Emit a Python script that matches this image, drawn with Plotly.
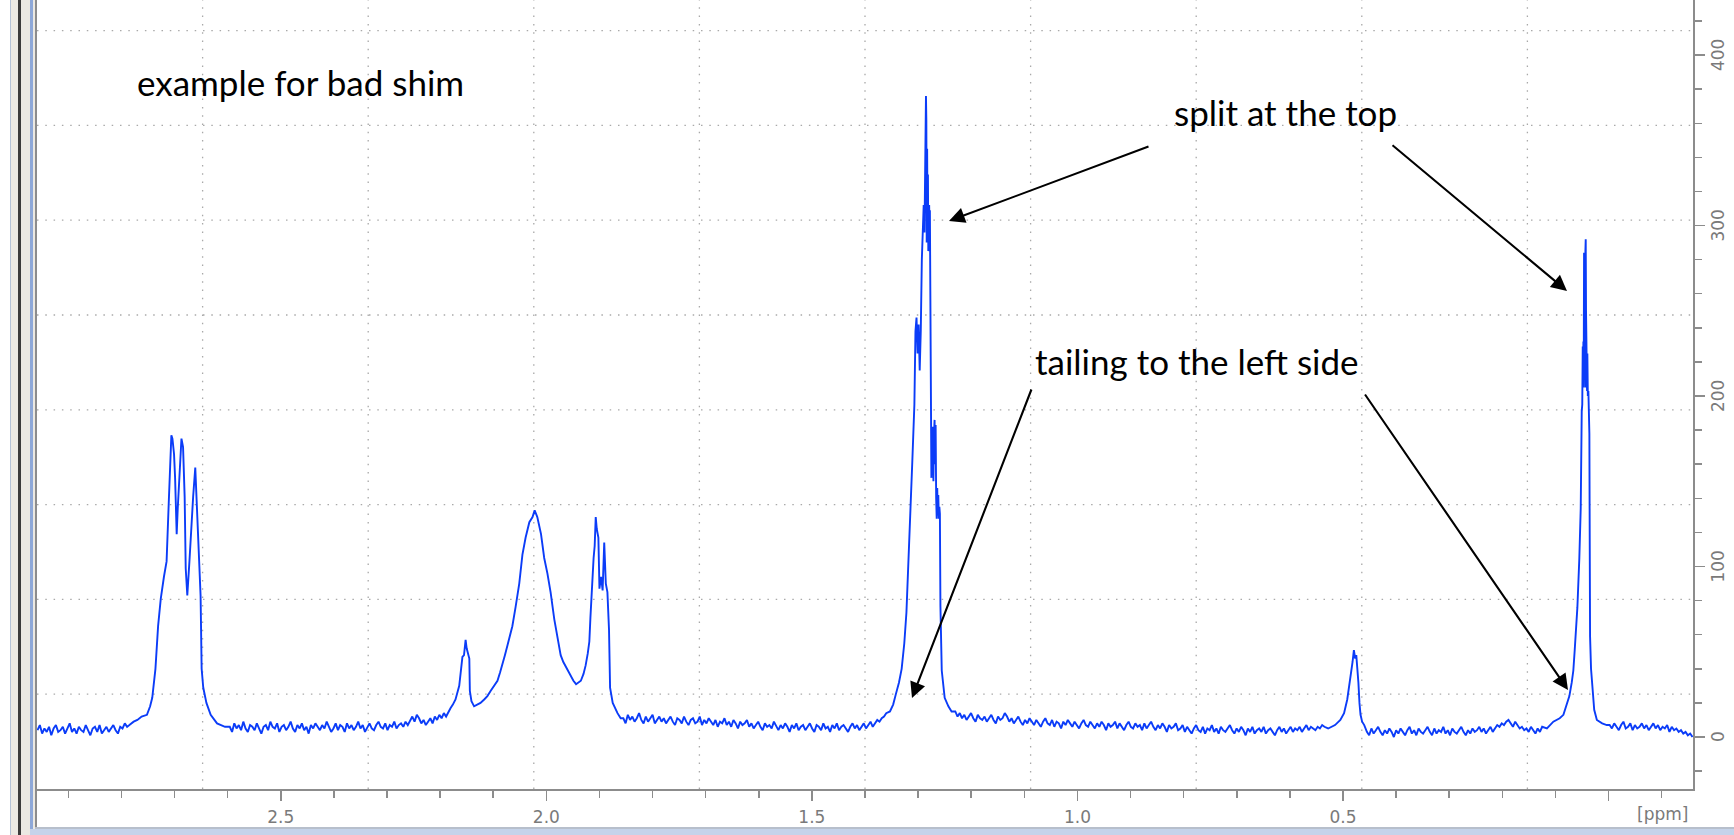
import numpy as np
import plotly.graph_objects as go

# ---------------- data ----------------
# baseline stretches: (start ppm, end ppm) and intensity values read along them
base_a_range = (2.958, 2.785)
base_a_vals = [4, 7, 2, 5, 3, 6, 1, 5, 7, 3, 4, 6, 2, 5, 8, 3, 5, 2, 6, 4,
               3, 7, 4, 1, 5, 6, 3, 7, 2, 4, 6, 3, 5, 7, 4, 2, 6, 5, 8, 6,
               7]

peak_27_ppm = [2.777, 2.770, 2.762, 2.752, 2.746, 2.742, 2.736, 2.731, 2.726, 2.720,
               2.715, 2.711, 2.709, 2.706, 2.704, 2.701, 2.699, 2.696, 2.694, 2.691,
               2.687, 2.684, 2.681, 2.679, 2.676, 2.672, 2.669, 2.665, 2.661, 2.659,
               2.656, 2.654, 2.651, 2.649, 2.646, 2.640, 2.632, 2.620, 2.605]
peak_27_val = [9, 10, 12, 13, 18, 23, 40, 65, 81, 94,
               103, 137, 152, 177, 175, 166, 152, 119, 134, 155,
               175, 170, 141, 99, 83, 103, 123, 141, 158, 141,
               117, 110, 83, 40, 29, 20, 13, 8, 6]

base_b_range = (2.596, 2.176)
base_b_vals = [6, 3, 8, 5, 7, 4, 9, 5, 3, 7, 6, 4, 8, 5, 2, 6, 7, 4, 9, 6,
               5, 8, 3, 6, 7, 4, 6, 9, 5, 3, 7, 5, 8, 4, 6, 2, 7, 5, 8, 6,
               4, 7, 5, 9, 6, 3, 5, 8, 4, 7, 6, 3, 8, 5, 7, 4, 6, 9, 5, 7,
               3, 6, 8, 5, 4, 7, 9, 6, 5, 8, 4, 7, 6, 9, 5, 7, 8, 6, 9, 7,
               10, 12, 9, 13, 11, 8, 10, 7, 9, 11, 8, 12, 10, 13, 11, 14, 12, 15, 17, 19]

peak_20_ppm = [2.171, 2.164, 2.161, 2.158, 2.155, 2.152, 2.150, 2.147, 2.145, 2.144,
               2.141, 2.136, 2.130, 2.124, 2.117, 2.111, 2.105, 2.098, 2.092, 2.087,
               2.083, 2.078, 2.073, 2.068, 2.064, 2.058, 2.051, 2.045, 2.039, 2.032,
               2.026, 2.022, 2.017, 2.010, 2.004, 1.998, 1.992, 1.985, 1.979, 1.973,
               1.968, 1.963, 1.958, 1.954, 1.949, 1.944, 1.940, 1.935, 1.930, 1.926,
               1.922, 1.919, 1.917, 1.915, 1.913, 1.911, 1.909, 1.907, 1.905, 1.902,
               1.900, 1.897, 1.894, 1.891, 1.888, 1.885, 1.882, 1.880, 1.875, 1.870,
               1.866, 1.860]
peak_20_val = [22, 30, 38, 47, 48, 57, 52, 48, 46, 27,
               21, 18, 19, 20, 22, 24, 27, 30, 33, 38,
               42, 48, 54, 60, 65, 76, 90, 107, 117, 126,
               129, 133, 129, 119, 105, 96, 85, 69, 59, 48,
               44, 41, 38, 36, 33, 31, 32, 33, 37, 42,
               49, 56, 70, 85, 96, 105, 112, 129, 122, 117,
               87, 94, 86, 114, 90, 85, 63, 29, 20, 16,
               14, 11]

base_c_range = (1.855, 1.360)
base_c_vals = [11, 8, 13, 10, 12, 9, 11, 14, 10, 8, 12, 9, 11, 13, 8, 10, 12, 9, 11, 8,
               10, 12, 9, 7, 11, 10, 8, 12, 9, 7, 10, 11, 8, 9, 12, 7, 10, 8, 11, 9,
               7, 10, 6, 9, 8, 11, 7, 9, 6, 10, 8, 5, 9, 7, 8, 10, 6, 8, 5, 7,
               9, 6, 4, 8, 6, 7, 5, 9, 6, 4, 7, 5, 8, 6, 3, 7, 5, 8, 4, 6,
               7, 4, 6, 8, 5, 3, 7, 6, 4, 8, 5, 6, 3, 7, 5, 8, 4, 6, 7, 5,
               3, 6, 8, 5, 7, 4, 6, 8, 5, 7, 9, 6, 8, 10, 9, 11, 12, 14]

peak_13_ppm = [1.353, 1.347, 1.342, 1.336, 1.331, 1.326, 1.322, 1.319, 1.316, 1.313,
               1.311, 1.309, 1.307, 1.305, 1.303, 1.301, 1.299, 1.297, 1.295, 1.293,
               1.291, 1.2895, 1.288, 1.287, 1.286, 1.2852, 1.2845, 1.2838, 1.2830, 1.2822,
               1.2815, 1.2808, 1.2800, 1.2792, 1.2785, 1.2778, 1.2770, 1.2760, 1.2750, 1.2740,
               1.2730, 1.2720, 1.2712, 1.2700, 1.2690, 1.2680, 1.2670, 1.2660, 1.2650, 1.2640,
               1.2630, 1.2620, 1.2610, 1.2600, 1.2590, 1.2580, 1.2555, 1.2500, 1.2430, 1.2370]
peak_13_val = [15, 19, 25, 32, 40, 55, 73, 95, 116, 140,
               161, 178, 195, 238, 246, 225, 242, 215, 238, 280,
               305, 312, 296, 352, 368, 376, 362, 290, 345, 295,
               330, 285, 305, 312, 298, 309, 262, 205, 152, 172,
               160, 182, 150, 178, 186, 160, 183, 140, 128, 146,
               130, 142, 128, 135, 131, 77, 39, 23, 18, 15]

base_d_range = (1.230, 0.535)
base_d_vals = [15, 12, 14, 11, 13, 10, 12, 14, 11, 9, 13, 11, 10, 12, 9, 11, 13, 10, 8, 12,
               10, 11, 14, 12, 9, 11, 8, 10, 12, 9, 7, 10, 8, 11, 9, 7, 10, 8, 6, 9,
               11, 8, 7, 10, 6, 9, 8, 5, 9, 7, 10, 8, 6, 9, 7, 5, 8, 10, 7, 6,
               9, 7, 5, 8, 6, 9, 7, 4, 8, 6, 7, 9, 5, 8, 6, 4, 7, 9, 6, 5,
               8, 6, 7, 4, 8, 5, 7, 9, 6, 4, 7, 5, 8, 6, 3, 7, 5, 6, 8, 4,
               5, 7, 3, 6, 4, 2, 5, 7, 4, 3, 6, 2, 5, 4, 7, 3, 5, 2, 6, 4,
               3, 5, 7, 4, 2, 5, 3, 6, 4, 1, 5, 3, 6, 2, 4, 5, 3, 6, 2, 4,
               5, 3, 1, 4, 6, 3, 5, 2, 4, 6, 3, 5, 4, 6, 3, 5, 7, 4, 6, 5,
               4, 6, 5, 7, 6]

peak_05_ppm = [0.528, 0.515, 0.505, 0.498, 0.492, 0.488, 0.485, 0.482, 0.4795, 0.477,
               0.475, 0.473, 0.471, 0.469, 0.467, 0.464, 0.460]
peak_05_val = [5, 7, 10, 14, 22, 30, 37, 44, 51, 46,
               48, 42, 32, 20, 13, 9, 7]

base_e_range = (0.455, 0.125)
base_e_vals = [3, 1, 5, 2, 4, 6, 3, 1, 4, 2, 5, 3, 0, 4, 2, 5, 3, 1, 4, 6,
               2, 4, 1, 5, 3, 2, 4, 6, 3, 1, 5, 2, 4, 3, 6, 2, 4, 1, 5, 3,
               2, 4, 6, 3, 1, 4, 2, 5, 3, 4, 6, 3, 5, 2, 4, 6, 3, 5, 7, 6,
               8, 7, 9, 10, 8, 6, 9, 7, 5, 6, 4, 5, 3, 6, 4, 2, 5, 3, 6]

peak_006_ppm = [0.116, 0.104, 0.092, 0.085, 0.0757, 0.0738, 0.0693, 0.0663, 0.0637, 0.0612,
                0.0587, 0.0550, 0.0524, 0.0505, 0.0495, 0.0486, 0.0480, 0.0474, 0.0468, 0.0461,
                0.0455, 0.0449, 0.0442, 0.0436, 0.0430, 0.0424, 0.0418, 0.0411, 0.0405, 0.0399,
                0.0390, 0.0380, 0.0370, 0.0361, 0.0355, 0.0348, 0.0330, 0.0300, 0.0270, 0.0220,
                0.0120, 0.0034]
peak_006_val = [5, 9, 11, 13, 23, 24, 32, 39, 51, 65,
                76, 105, 134, 191, 195, 229, 205, 232, 210, 284,
                220, 240, 205, 285, 292, 250, 215, 230, 203, 225,
                200, 203, 190, 178, 120, 59, 40, 25, 16, 10,
                8, 7]

base_f_range = (-0.002, -0.158)
base_f_vals = [7, 5, 8, 6, 4, 7, 9, 5, 6, 8, 4, 7, 5, 6, 8, 5, 7, 4, 6, 8,
               5, 7, 4, 6, 5, 7, 3, 6, 4, 5, 3, 4, 2, 3, 1, 2, 0]

x_tick_vals = [2.5, 2.0, 1.5, 1.0, 0.5, 0.0]
x_tick_text = ["2.5", "2.0", "1.5", "1.0", "0.5", ""]
y_tick_vals = [0, 100, 200, 300, 400]
y_tick_text = ["0", "100", "200", "300", "400"]

notes = ["example for bad shim", "split at the top", "tailing to the left side"]

# ---------------- assemble spectrum ----------------
def stretch(rng, vals):
    return list(np.linspace(rng[0], rng[1], len(vals))), list(vals)

ppm, inten = [], []
parts = [
    stretch(base_a_range, base_a_vals),
    (peak_27_ppm, peak_27_val),
    stretch(base_b_range, base_b_vals),
    (peak_20_ppm, peak_20_val),
    stretch(base_c_range, base_c_vals),
    (peak_13_ppm, peak_13_val),
    stretch(base_d_range, base_d_vals),
    (peak_05_ppm, peak_05_val),
    stretch(base_e_range, base_e_vals),
    (peak_006_ppm, peak_006_val),
    stretch(base_f_range, base_f_vals),
]
for p, v in parts:
    ppm += list(p)
    inten += list(v)

# ---------------- layout geometry (pixels) ----------------
W, H = 1734, 835
L, R, B, T = 37, 1693, 789, 0
PW, PH = R - L, B - T


def px(xp):
    return (xp - L) / PW


def py(yp):
    return (B - yp) / PH


fig = go.Figure()
fig.add_trace(go.Scatter(x=ppm, y=inten, mode="lines",
                         line=dict(color="#0b3cf8", width=1.9),
                         hoverinfo="skip", showlegend=False))

shapes = []
grid_col = "#a9a9a9"
for k in range(1, 10):
    shapes.append(dict(type="line", xref="paper", yref="paper",
                       x0=k / 10, x1=k / 10, y0=0, y1=1, layer="below",
                       line=dict(color=grid_col, width=1.3, dash="1.5px,6.8px")))
for k in range(1, 9):
    yy = k * 94.8 / PH
    shapes.append(dict(type="line", xref="paper", yref="paper",
                       x0=0, x1=1, y0=yy, y1=yy, layer="below",
                       line=dict(color=grid_col, width=1.3, dash="1.5px,6.8px")))


def rect(x0, x1, y0, y1, col):
    shapes.append(dict(type="rect", xref="paper", yref="paper",
                       x0=px(x0), x1=px(x1), y0=py(y1), y1=py(y0),
                       line=dict(width=0), fillcolor=col, layer="above"))


rect(10, 11, 0, 835, "#b4c2d6")
rect(11, 18, 0, 835, "#ebe9e3")
rect(18, 21, 0, 835, "#3b3b3b")
rect(21, 30, 0, 835, "#ebe9e3")
rect(30, 33, 0, 835, "#8ea8d8")
rect(33, 35, 0, 835, "#ece9e2")
rect(35, 37, 0, 829, "#8c8c8c")
rect(35, 1734, 827, 829, "#b7bfcc")
rect(30, 1734, 829, 835, "#c5d3ea")

annotations = []
text_font = dict(family="Lato, Carlito, Calibri, sans-serif", size=35, color="#000000")
annotations.append(dict(xref="paper", yref="paper", x=px(135), y=py(82),
                        xanchor="left", yanchor="middle", text=notes[0],
                        showarrow=False, font=text_font))
annotations.append(dict(xref="paper", yref="paper", x=px(1172), y=py(112),
                        xanchor="left", yanchor="middle", text=notes[1],
                        showarrow=False, font=text_font))
annotations.append(dict(xref="paper", yref="paper", x=px(1033), y=py(361),
                        xanchor="left", yanchor="middle", text=notes[2],
                        showarrow=False, font=text_font))

arrows = [((949, 221), (1150, 146)),
          ((1567, 291), (1391, 144)),
          ((912, 698), (1032, 388)),
          ((1568, 690), (1364, 393))]
for (hx, hy), (tx, ty) in arrows:
    annotations.append(dict(xref="paper", yref="paper", x=px(hx), y=py(hy),
                            ax=tx - hx, ay=ty - hy, axref="pixel", ayref="pixel",
                            text="", showarrow=True, arrowhead=2, arrowsize=1.5,
                            arrowwidth=2.1, arrowcolor="#000000", standoff=0))

tick_font = dict(family="DejaVu Sans, Verdana, sans-serif", size=17, color="#7a7a7a")
annotations.append(dict(xref="paper", yref="paper", x=px(1662), y=py(814),
                        xanchor="center", yanchor="middle", text="[ppm]",
                        showarrow=False, font=tick_font))
# rotated y tick labels on the right
for v, t in zip(y_tick_vals, y_tick_text):
    annotations.append(dict(xref="paper", yref="y", x=px(1718), y=v,
                            xanchor="center", yanchor="middle", text=t, textangle=-90,
                            showarrow=False, font=tick_font))

axis_col = "#8c8c8c"
fig.update_layout(
    width=W, height=H,
    margin=dict(l=L, r=W - R, t=T, b=H - B, pad=0, autoexpand=False),
    paper_bgcolor="#ffffff", plot_bgcolor="#ffffff",
    shapes=shapes, annotations=annotations, showlegend=False,
    xaxis=dict(range=[2.959, -0.159], showgrid=False, zeroline=False, automargin=False,
               showline=True, linecolor=axis_col, linewidth=1.5,
               tickmode="array", tickvals=x_tick_vals, ticktext=x_tick_text,
               ticks="outside", ticklen=10, tickwidth=1.5, tickcolor=axis_col,
               tickfont=tick_font, ticklabelstandoff=2,
               minor=dict(tickmode="linear", tick0=0, dtick=0.1, ticks="outside",
                          ticklen=7, tickwidth=1.5, tickcolor=axis_col, showgrid=False)),
    yaxis=dict(range=[-30.5, 432.3], side="right", showgrid=False, zeroline=False,
               automargin=False,
               showline=True, linecolor=axis_col, linewidth=1.5,
               tickmode="array", tickvals=y_tick_vals, showticklabels=False,
               ticks="outside", ticklen=10, tickwidth=1.5, tickcolor=axis_col,
               minor=dict(tickmode="linear", tick0=0, dtick=20, ticks="outside",
                          ticklen=7, tickwidth=1.5, tickcolor=axis_col, showgrid=False)),
)

fig.write_html("out.html",
               config={"displayModeBar": False, "staticPlot": True},
               post_script="document.body.style.margin='0px';"
                           "document.body.style.padding='0px';"
                           "document.body.style.overflow='hidden';")
